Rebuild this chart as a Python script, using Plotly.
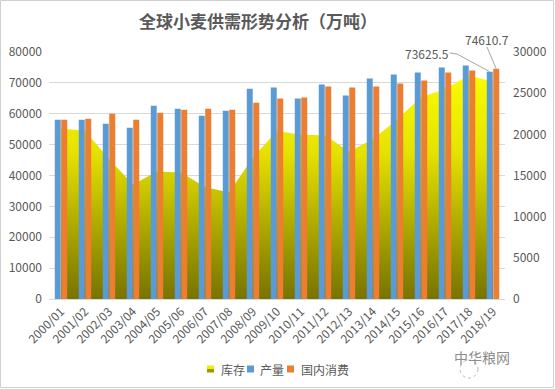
import plotly.graph_objects as go

categories = ["2000/01", "2001/02", "2002/03", "2003/04", "2004/05", "2005/06", "2006/07",
              "2007/08", "2008/09", "2009/10", "2010/11", "2011/12", "2012/13", "2013/14",
              "2014/15", "2015/16", "2016/17", "2017/18", "2018/19"]
stock = [20700, 20450, 17000, 13900, 15500, 15350, 13600, 12950, 17200, 20400,
         19950, 19900, 17900, 19400, 21800, 24500, 25500, 27150, 26400]
production = [58060, 58060, 56770, 55480, 62580, 61610, 59350, 60970, 68060, 68490,
              64950, 69460, 65910, 71400, 72690, 73330, 74950, 75590, 73625.5]
consumption = [58060, 58390, 60000, 58060, 60320, 61290, 61610, 61290, 63550, 64950,
               65270, 68820, 68490, 68820, 69780, 70750, 73330, 73980, 74610.7]
legend_names = ["库存", "产量", "国内消费"]

FONT = "Noto Sans CJK SC"
GRAY = "#595959"
BLUE = "#5B9BD5"
ORANGE = "#ED7D31"
LEFT_MAX = 80000
RIGHT_MAX = 30000

L, R, T, B = 49, 50, 52, 90
W, H = 555, 389
pw, ph = W - L - R, H - T - B
BASE = H - B  # pixel y of the x axis


def px(x):
    return (x - L) / pw


def py(y):
    return (BASE - y) / ph


fig = go.Figure()
fig.add_trace(go.Scatter(
    x=categories, y=stock, name=legend_names[0], yaxis="y", mode="lines",
    line=dict(width=0, color="#e8e400"), fill="tozeroy",
    fillgradient=dict(type="vertical", start=0, stop=27500,
                      colorscale=[[0, "#777300"], [0.35, "#b2ae00"], [0.65, "#e6e200"], [1, "#fcfc00"]]),
    hoverinfo="skip",
))
fig.add_trace(go.Bar(x=categories, y=production, name=legend_names[1], yaxis="y2",
                     marker=dict(color=BLUE, line=dict(width=0))))
fig.add_trace(go.Bar(x=categories, y=consumption, name=legend_names[2], yaxis="y2",
                     marker=dict(color=ORANGE, line=dict(width=0))))

fig.update_layout(
    width=W, height=H,
    margin=dict(l=L, r=R, t=T, b=B, pad=0, autoexpand=False),
    paper_bgcolor="white", plot_bgcolor="white",
    font=dict(family=FONT, color=GRAY, size=11),
    title=dict(text="全球小麦供需形势分析（万吨）", x=258 / W, xanchor="center", y=1 - 22 / H, yanchor="middle",
               font=dict(family=FONT, size=17, color=GRAY, weight="bold")),
    barmode="group", bargap=0.46, bargroupgap=0.08,
    showlegend=False,
    xaxis=dict(type="category", tickangle=-45, showgrid=False, showline=True, linecolor="#d9d9d9",
               ticks="", tickfont=dict(size=12, color=GRAY), range=[-0.5, 18.5], automargin=False),
    yaxis=dict(range=[0, RIGHT_MAX], dtick=5000, side="right", showgrid=False,
               zeroline=False, showline=False, ticks="", tickformat="d", automargin=False,
               ticklabelstandoff=7, tickfont=dict(size=12, color=GRAY)),
    yaxis2=dict(range=[0, LEFT_MAX], dtick=10000, side="left", overlaying="y",
                showgrid=True, gridcolor="#d9d9d9", gridwidth=1, automargin=False,
                zeroline=False, showline=False, ticks="", tickformat="d",
                ticklabelstandoff=6, tickfont=dict(size=12, color=GRAY)),
)

n = len(categories) - 1
ann_font = dict(size=12, color=GRAY)
# data labels for the last year, with leader lines
fig.add_annotation(x=15.25, y=py(53), xref="x", yref="paper", text=f"{production[-1]}",
                   showarrow=False, xanchor="center", yanchor="middle", font=ann_font)
fig.add_shape(type="path", xref="x", yref="paper",
              path=f"M 16.2,{py(53)} L 16.5,{py(54)} L {n - 0.14},{production[-1] / LEFT_MAX}",
              line=dict(color="#a6a6a6", width=1))
fig.add_annotation(x=17.75, y=py(39), xref="x", yref="paper", text=f"{consumption[-1]}",
                   showarrow=False, xanchor="center", yanchor="middle", font=ann_font)
fig.add_shape(type="line", xref="x", yref="paper",
              x0=17.75, y0=py(47), x1=n + 0.13, y1=consumption[-1] / LEFT_MAX,
              line=dict(color="#a6a6a6", width=1))

# custom compact legend
leg_y = 369
sq = 7
items = [(207, 219), (247, 258), (287, 299)]
for (sx, tx), name in zip(items, legend_names):
    if name == legend_names[0]:
        fig.add_shape(type="rect", xref="paper", yref="paper",
                      x0=px(sx), x1=px(sx + sq), y0=py(leg_y - sq / 2), y1=py(leg_y),
                      line=dict(width=0), fillcolor="#f2ee00")
        fig.add_shape(type="rect", xref="paper", yref="paper",
                      x0=px(sx), x1=px(sx + sq), y0=py(leg_y), y1=py(leg_y + sq / 2),
                      line=dict(width=0), fillcolor="#9c9800")
    else:
        fig.add_shape(type="rect", xref="paper", yref="paper",
                      x0=px(sx), x1=px(sx + sq), y0=py(leg_y - sq / 2), y1=py(leg_y + sq / 2),
                      line=dict(width=0), fillcolor=BLUE if name == legend_names[1] else ORANGE)
    fig.add_annotation(x=px(tx), y=py(leg_y), xref="paper", yref="paper", text=name,
                       showarrow=False, xanchor="left", yanchor="middle",
                       font=dict(size=12, color=GRAY))

# watermark
fig.add_annotation(x=px(512), y=py(369), xref="paper", yref="paper",
                   text="中华粮网", showarrow=False, font=dict(size=14, color="#8c8c8c"))
fig.add_shape(type="circle", xref="paper", yref="paper",
              x0=px(460), x1=px(478), y0=py(378), y1=py(360),
              line=dict(color="#b8b8b8", width=1, dash="dot"), fillcolor="rgba(0,0,0,0)")

# outer border
fig.add_shape(type="rect", xref="paper", yref="paper",
              x0=px(0.5), x1=px(W - 1.5), y0=py(H - 1.5), y1=py(0.5),
              line=dict(color="#d0d0d0", width=1), fillcolor="rgba(0,0,0,0)", layer="below")

fig.write_html("out.html", config={"displayModeBar": False},
               post_script="document.body.style.margin='0';document.body.style.overflow='hidden';")
